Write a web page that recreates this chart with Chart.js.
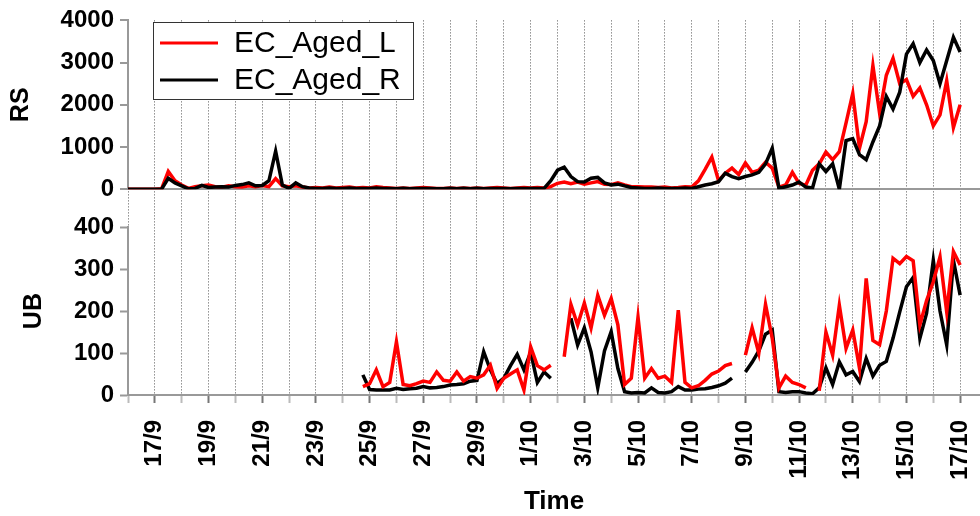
<!DOCTYPE html>
<html>
<head>
<meta charset="utf-8">
<script src="https://cdn.jsdelivr.net/npm/chart.js@4.4.0/dist/chart.umd.min.js"></script>
<style>
  html, body { margin: 0; padding: 0; background: #fff; }
  #chart { display: block; }
</style>
</head>
<body>
<canvas id="chart" width="980" height="516"></canvas>
<script>
// samples every 6 h, starting 16/9 00:00
var stepDays = 0.25;

var dateLabels = ['16/9','17/9','18/9','19/9','20/9','21/9','22/9','23/9','24/9','25/9','26/9','27/9','28/9','29/9','30/9',
                  '1/10','2/10','3/10','4/10','5/10','6/10','7/10','8/10','9/10','10/10','11/10','12/10','13/10','14/10','15/10','16/10','17/10'];

var seriesNames = ['EC_Aged_L', 'EC_Aged_R'];
var seriesColors = ['#ff0000', '#000000'];

// RS panel
var rsL = [0,0,0,0,0,10,420,200,100,20,60,80,100,60,50,80,60,50,80,60,90,60,250,80,60,80,50,30,
           40,30,50,30,40,50,30,40,30,60,40,30,20,30,20,30,40,30,20,20,30,20,30,20,30,20,30,40,30,20,30,40,30,40,
           30,60,140,170,130,170,120,150,180,120,110,150,100,60,60,50,50,40,50,30,40,60,50,200,470,
           760,200,380,500,350,620,400,450,640,500,50,100,400,
           140,95,450,600,880,700,890,1570,2270,970,1600,2930,1800,2700,3100,2500,2600,2200,2400,2000,1500,1760,2570,1460,2000];
var rsR = [0,0,0,0,0,0,260,150,80,10,20,90,40,50,60,50,90,110,150,80,90,200,900,100,20,150,60,30,
           20,20,30,20,20,30,20,20,20,30,20,20,10,20,10,20,20,20,10,10,20,10,20,10,20,10,20,20,20,10,20,20,20,20,
           20,200,450,520,300,180,170,260,280,150,100,120,80,40,30,20,20,30,20,20,20,30,20,60,100,
           130,180,380,300,250,300,340,400,600,970,20,60,100,
           170,50,30,600,420,600,0,1150,1200,820,700,1120,1500,2200,1900,2300,3200,3450,3000,3300,3050,2500,3050,3600,3250];

// UB panel (no data before 24/9 evening)
var ubL = [null,null,null,null,null,null,null,null,null,null,null,null,null,null,null,null,null,null,null,null,
           null,null,null,null,null,null,null,null,null,null,null,null,null,null,null,
           20,27,60,20,30,127,25,22,27,33,30,55,35,33,55,33,44,40,48,71,16,40,50,60,12,
           115,70,60,71,null,91,216,167,219,160,238,190,230,167,25,40,186,40,63,40,
           45,30,202,30,17,22,35,50,57,70,75,null,95,160,100,216,135,17,45,30,
           25,17,null,10,150,95,214,111,155,64,278,130,120,200,326,313,330,320,167,225,
           270,329,198,342,310];
var ubR = [null,null,null,null,null,null,null,null,null,null,null,null,null,null,null,null,null,null,null,null,
           null,null,null,null,null,null,null,null,null,null,null,null,null,null,null,
           48,13,12,12,12,16,13,15,16,20,17,18,20,24,25,27,33,35,103,60,27,40,70,97,60,
           102,30,55,40,null,null,183,119,160,103,17,105,151,63,8,5,6,5,17,6,
           5,8,20,12,12,14,15,18,22,28,40,null,55,78,105,145,155,8,6,8,
           8,5,3,17,65,25,79,48,56,32,87,45,71,80,135,198,258,280,135,195,
           321,200,119,321,238];

var FONT = 'Liberation Sans, Arial, sans-serif';

var toPoints = function(vals) {
    return vals.map(function(v, i) { return {x: i * stepDays, y: v}; });
};

var lineSet = function(label, vals, color, axis) {
    return {
        label: label,
        data: toPoints(vals),
        yAxisID: axis,
        borderColor: color,
        backgroundColor: color,
        borderWidth: 3.5,
        pointRadius: 0,
        tension: 0,
        fill: false,
        spanGaps: false
    };
};

// boxed legend top-left, like the original
var boxLegend = {
    id: 'boxLegend',
    afterDraw: function(chart) {
        var ctx = chart.ctx;
        ctx.save();
        ctx.fillStyle = '#fff';
        ctx.fillRect(153.5, 22.5, 260, 77);
        ctx.strokeStyle = '#333';
        ctx.lineWidth = 1;
        ctx.strokeRect(153.5, 22.5, 260, 77);
        ctx.font = '30px ' + FONT;
        ctx.textBaseline = 'middle';
        for (var i = 0; i < seriesNames.length; i++) {
            var y = 43 + i * 37;
            ctx.strokeStyle = seriesColors[i];
            ctx.lineWidth = 3;
            ctx.beginPath();
            ctx.moveTo(160, y);
            ctx.lineTo(218, y);
            ctx.stroke();
            ctx.fillStyle = '#000';
            ctx.fillText(seriesNames[i], 234, y + 1);
        }
        ctx.restore();
    }
};

var tickFont = {family: FONT, size: 24, weight: 'bold'};
var plainNumber = function(v) { return String(v); };

var ctx = document.getElementById('chart').getContext('2d');
var myChart = new Chart(ctx, {
    type: 'line',
    data: {
        datasets: [
            lineSet(seriesNames[1], rsR, seriesColors[1], 'yRS'),
            lineSet(seriesNames[0], rsL, seriesColors[0], 'yRS'),
            lineSet(seriesNames[0], ubL, seriesColors[0], 'yUB'),
            lineSet(seriesNames[1], ubR, seriesColors[1], 'yUB')
        ]
    },
    options: {
        responsive: false,
        devicePixelRatio: 1,
        animation: false,
        layout: {padding: {top: 20, right: 0, bottom: 0, left: 0}},
        plugins: {
            legend: {display: false},
            tooltip: {enabled: false}
        },
        scales: {
            x: {
                type: 'linear',
                min: 0,
                max: 31.74,
                ticks: {
                    stepSize: 1,
                    includeBounds: false,
                    autoSkip: false,
                    maxRotation: 90,
                    minRotation: 90,
                    padding: 17,
                    color: '#000',
                    font: tickFont,
                    callback: function(v) {
                        return (v % 2 === 1) ? dateLabels[v] : '';
                    }
                },
                grid: {
                    color: '#555',
                    lineWidth: 1,
                    tickLength: 8,
                    tickWidth: 2,
                    tickColor: function(c) {
                        return (c.tick && c.tick.value % 2 === 1) ? '#777' : '#bbb';
                    }
                },
                border: {color: '#999', width: 2, dash: [1, 2]},
                title: {
                    display: true,
                    text: 'Time',
                    color: '#000',
                    font: {family: FONT, size: 26, weight: 'bold', lineHeight: 1},
                    padding: {top: 0, bottom: 1}
                },
                afterFit: function(s) {
                    s.height = 121;
                    s.paddingLeft = 0;
                    s.paddingRight = 0;
                }
            },
            yRS: {
                type: 'linear',
                position: 'left',
                stack: 'panels',
                stackWeight: 169,
                weight: 3,
                min: 0,
                max: 4000,
                ticks: {stepSize: 1000, autoSkip: false, padding: 6, color: '#000', font: tickFont, callback: plainNumber},
                grid: {
                    lineWidth: 2,
                    color: function(c) {
                        return (c.tick && c.tick.value === 0) ? '#999' : 'rgba(0,0,0,0)';
                    },
                    tickColor: '#999',
                    tickLength: 8,
                    tickWidth: 2
                },
                border: {color: '#999', width: 2},
                title: {
                    display: true,
                    text: 'RS',
                    color: '#000',
                    font: {family: FONT, size: 25, weight: 'bold', lineHeight: 1.2},
                    padding: {top: 6, bottom: 0}
                },
                afterFit: function(s) { s.width = 128; }
            },
            gap: {
                type: 'linear',
                position: 'left',
                stack: 'panels',
                stackWeight: 38,
                weight: 2,
                min: 0,
                max: 1,
                ticks: {display: false},
                grid: {display: false},
                border: {display: false},
                afterFit: function(s) { s.width = 128; }
            },
            yUB: {
                type: 'linear',
                position: 'left',
                stack: 'panels',
                stackWeight: 168,
                weight: 1,
                min: 0,
                max: 400,
                ticks: {stepSize: 100, autoSkip: false, padding: 6, color: '#000', font: tickFont, callback: plainNumber},
                grid: {drawOnChartArea: false, tickColor: '#999', tickLength: 8, tickWidth: 2},
                border: {color: '#999', width: 2},
                title: {
                    display: true,
                    text: 'UB',
                    color: '#000',
                    font: {family: FONT, size: 25, weight: 'bold', lineHeight: 1.2},
                    padding: {top: 19, bottom: 0}
                },
                afterFit: function(s) { s.width = 128; }
            }
        }
    },
    plugins: [boxLegend]
});
</script>
</body>
</html>
